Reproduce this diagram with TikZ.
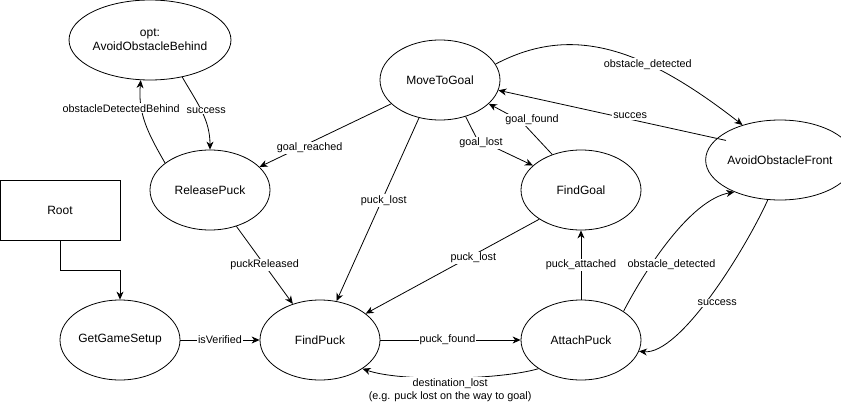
\documentclass[tikz,border=0pt]{standalone}
\usepackage{fontspec}
\setmainfont{Liberation Sans}
\usepackage{tikz}
\usetikzlibrary{shapes.geometric, arrows.meta, positioning}
\tikzset{
  % State machine styles
  statenode/.style={ellipse, draw=black, line width=0.8pt, minimum width=120pt, minimum height=80pt, inner sep=0pt, text centered, font=\fontsize{12}{14}\selectfont},
  rootbox/.style={rectangle, draw=black, line width=0.8pt, minimum width=120pt, minimum height=60pt, inner sep=0pt, text centered, font=\fontsize{12}{14}\selectfont},
  arrow/.style={-{Stealth[length=8pt, width=7pt, inset=2.5pt]}, line width=0.8pt},
  lbl/.style={fill=white, inner sep=1pt, font=\fontsize{10.8}{13}\selectfont},
}

\begin{document}
\begin{tikzpicture}[x=1pt, y=-1pt]
    \useasboundingbox (0,0) rectangle (841,404);

    % States
    \node[statenode, align=center] (aob) at (150,40) {opt:\\AvoidObstacleBehind};
    \node[statenode] (mtg) at (440,80) {MoveToGoal};
    \node[statenode] (rp) at (210,190) {ReleasePuck};
    \node[statenode] (fg) at (581,190) {FindGoal};
    \node[statenode] (aof) at (780,160) {AvoidObstacleFront};
    \node[rootbox] (root) at (60,210) {Root};
    \node[statenode] (ggs) at (120,340) {GetGameSetup};
    \node[statenode] (fp) at (320,340) {FindPuck};
    \node[statenode] (ap) at (581,340) {AttachPuck};

    % Behind-obstacle loop
    \draw[arrow] (rp.149) to[out=120, in=-95] node[lbl, pos=0.6, xshift=-22pt, yshift=7pt] {obstacleDetectedBehind} (aob.-103);
    \draw[arrow] (aob.-49) to[out=-60, in=90] node[lbl, pos=0.45, xshift=6pt, yshift=-2pt] {success} (rp.north);

    % Leaving MoveToGoal
    \draw[arrow] (mtg.206) -- node[lbl, pos=0.62, yshift=-5pt] {goal\_reached} (rp.25);
    \draw[arrow] (mtg.241) -- node[lbl, pos=0.44, xshift=1pt, yshift=-2pt] {puck\_lost} (fp.67);
    \draw[arrow] (mtg.16) .. controls (570,25) and (640,45) .. node[lbl, pos=0.66] {obstacle\_detected} (aof.137);
    \draw[arrow] (mtg.-55) -- (477,139) node[lbl, xshift=4pt, yshift=-4pt] {goal\_lost} -- (fg.153);

    % Back to MoveToGoal
    \draw[arrow] ([shift={(8pt,-3pt)}]aof.160) -- node[lbl, pos=0.43, xshift=2pt, yshift=3pt] {succes} (mtg.-10);
    \draw[arrow] (fg.129) -- (521,121) node[lbl, xshift=11pt, yshift=1pt] {goal\_found} -- (mtg.-26);

    % Into FindPuck
    \draw[arrow] (rp.-54) -- node[lbl] {puckReleased} (fp.127);
    \draw[arrow] (fg.215) -- node[lbl, pos=0.38, yshift=-3pt] {puck\_lost} (fp.30);

    % AttachPuck transitions
    \draw[arrow] (ap.north) -- node[lbl] {puck\_attached} (fg.south);
    \draw[arrow] (ap.34) .. controls (645,270) and (690,200) .. node[lbl, pos=0.3, xshift=23pt, yshift=4pt] {obstacle\_detected} (aof.215);
    \draw[arrow] (aof.253) .. controls (745,250) and (680,355) .. node[lbl, pos=0.5, xshift=7pt, yshift=-7pt] {success} (ap.-11);

    % Bottom row
    \draw[arrow] (root.south) -- ++(0,30) -| (ggs.north);
    \draw[arrow] (ggs.east) -- node[lbl] {isVerified} (fp.west);
    \draw[arrow] (fp.east) -- node[lbl, xshift=-3pt] {puck\_found} (ap.west);
    \draw[arrow] (ap.214) .. controls (500,380) and (400,382) .. node[lbl, pos=0.5, yshift=-12pt, align=center] {destination\_lost\\(e.g. puck lost on the way to goal)} (fp.-34);
\end{tikzpicture}
\end{document}
